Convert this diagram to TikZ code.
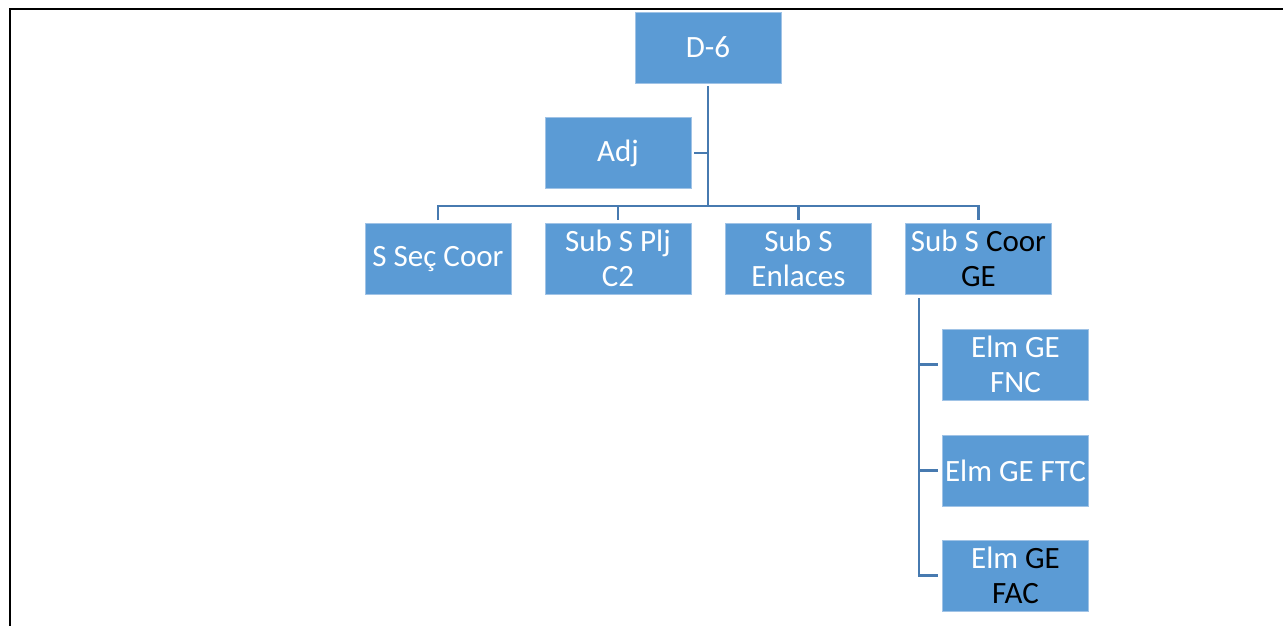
\documentclass[tikz,border=0pt]{standalone}
\usepackage{fontspec}
\setmainfont{Carlito}
\definecolor{boxfill}{RGB}{91,155,213}
\definecolor{boxedge}{RGB}{160,195,230}
\definecolor{connblue}{RGB}{71,122,176}
\begin{document}
\begin{tikzpicture}[x=1pt,y=-1pt,
  orgbox/.style={rectangle, fill=boxfill, draw=boxedge, line width=0.6pt,
    minimum width=146pt, minimum height=71pt, inner sep=0pt,
    align=center, text=white, font=\fontsize{31}{35}\selectfont},
  conn/.style={draw=connblue, line width=2.4pt}]
\useasboundingbox (0,0) rectangle (1283,625);
\draw[black, line width=2pt] (9.5,626) -- (9.5,9) -- (1284,9);

\node[orgbox] (D6) at (708,47.5) {D-6};
\node[orgbox] (Adj) at (618,153) {Adj};
\node[orgbox] (S1) at (438,259) {S Seç Coor};
\node[orgbox] (S2) at (618,258.5) {Sub S Plj\\C2};
\node[orgbox] (S3) at (798.5,258.5) {Sub S\\Enlaces};
\node[orgbox] (S4) at (978.5,258.5) {Sub S \textcolor{black}{Coor}\\\textcolor{black}{GE}};
\node[orgbox] (C1) at (1015.5,364.5) {Elm GE\\FNC};
\node[orgbox] (C2) at (1015.5,470.5) {Elm GE FTC};
\node[orgbox] (C3) at (1015.5,575.5) {Elm \textcolor{black}{GE}\\\textcolor{black}{FAC}};

\coordinate (hub) at (708,206);
\coordinate (vx) at (919,298);

\draw[conn] ([yshift=-3pt]D6.south) -- (hub);
\draw[conn] ([xshift=3pt]Adj.east) -- (Adj.east -| hub);
\draw[conn] ([yshift=3pt]S1.north) -- (S1.north |- hub) -- (S4.north |- hub) -- ([yshift=3pt]S4.north);
\draw[conn] (S2.north |- hub) -- ([yshift=3pt]S2.north);
\draw[conn] (S3.north |- hub) -- ([yshift=3pt]S3.north);
\draw[conn] (vx) -- (vx |- C3.west) -- ([xshift=-4pt]C3.west);
\draw[conn] (vx |- C1.west) -- ([xshift=-4pt]C1.west);
\draw[conn] (vx |- C2.west) -- ([xshift=-4pt]C2.west);
\end{tikzpicture}
\end{document}
